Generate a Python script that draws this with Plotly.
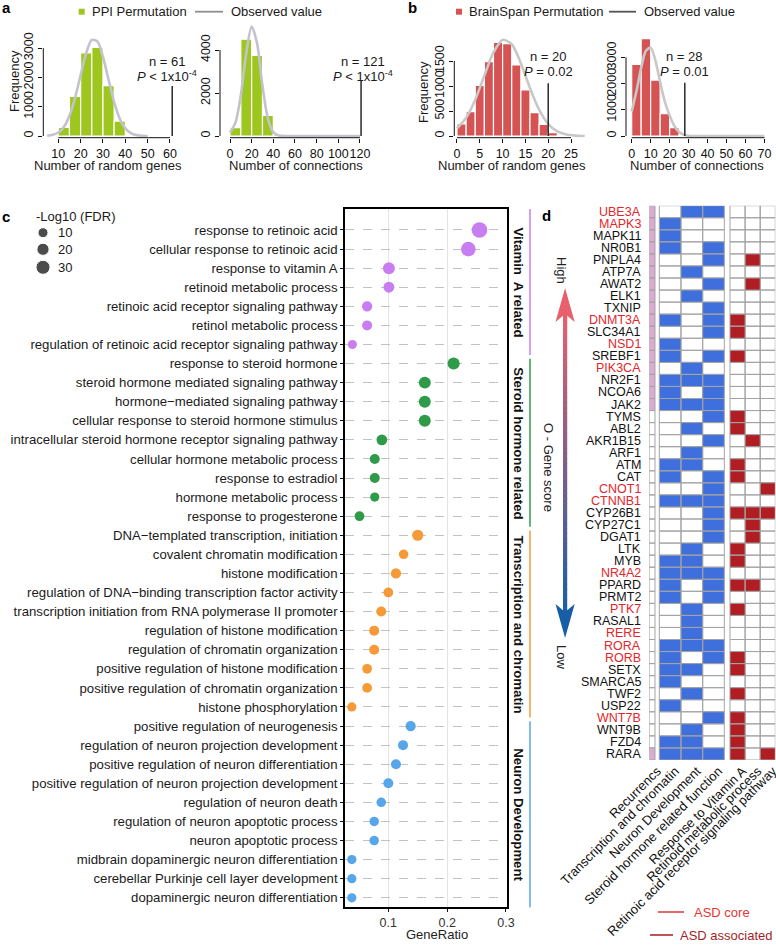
import plotly.graph_objects as go

W, H = 776, 947
FONT = "Liberation Sans, Arial, Helvetica, sans-serif"


def X(p):
    return p / W


def Y(p):
    return 1 - p / H


# ------------------------------------------------------------------ DATA
# Panel a (PPI permutation)
ppi_genes_bins = [12.5, 17.5, 22.5, 27.5, 32.5, 37.5]
ppi_genes_counts = [290, 1350, 2840, 3020, 1720, 510]
ppi_genes_curve_x = [5, 7.5, 10, 12.5, 15, 17.5, 20, 22.5, 25, 27.5, 30, 32.5, 35, 37.5, 40, 42.5, 45, 47.5, 50]
ppi_genes_curve_y = [10, 40, 120, 310, 690, 1300, 2080, 2830, 3280, 3230, 2700, 1920, 1160, 600, 260, 100, 30, 8, 0]
ppi_genes_observed = 61
ppi_genes_obs_height = 1706

ppi_conn_bins = [5, 15, 25, 35, 45, 55]
ppi_conn_counts = [390, 4500, 3750, 960, 80, 10]
ppi_conn_curve_x = [0, 5, 10, 15, 20, 25, 30, 35, 40, 45, 50, 60, 80, 100, 120]
ppi_conn_curve_y = [150, 620, 1900, 3850, 5090, 4300, 2330, 810, 180, 26, 2, 0, 0, 0, 0]
ppi_conn_observed = 121
ppi_conn_obs_height = 2605

# Panel b (BrainSpan permutation)
bs_genes_bins = [1, 3, 5, 7, 9, 11, 13, 15, 17, 19, 21, 23]
bs_genes_counts = [240, 487, 1010, 1487, 1873, 1847, 1420, 920, 467, 233, 67, 10]
bs_genes_curve_x = [0, 2, 4, 6, 8, 10, 12, 14, 16, 18, 20, 22, 24, 26, 28]
bs_genes_curve_y = [153, 363, 727, 1210, 1672, 1922, 1835, 1456, 960, 526, 239, 91, 29, 8, 0]
bs_genes_observed = 20
bs_genes_obs_height = 1054

bs_conn_bins = [2.5, 7.5, 12.5, 17.5, 22.5, 27.5]
bs_conn_counts = [2730, 3720, 2135, 850, 320, 40]
bs_conn_curve_x = [0, 2.5, 5, 7.5, 10, 12.5, 15, 17.5, 20, 22.5, 25, 27.5, 30, 33, 40, 50, 60, 70]
bs_conn_curve_y = [930, 1710, 2600, 3250, 3370, 2880, 2050, 1300, 780, 380, 150, 50, 12, 0, 0, 0, 0, 0]
bs_conn_observed = 28
bs_conn_obs_height = 2034

# Panel c (GO enrichment)
go_terms = [
    "response to retinoic acid",
    "cellular response to retinoic acid",
    "response to vitamin A",
    "retinoid metabolic process",
    "retinoic acid receptor signaling pathway",
    "retinol metabolic process",
    "regulation of retinoic acid receptor signaling pathway",
    "response to steroid hormone",
    "steroid hormone mediated signaling pathway",
    "hormone\u2212mediated signaling pathway",
    "cellular response to steroid hormone stimulus",
    "intracellular steroid hormone receptor signaling pathway",
    "cellular hormone metabolic process",
    "response to estradiol",
    "hormone metabolic process",
    "response to progesterone",
    "DNA\u2212templated transcription, initiation",
    "covalent chromatin modification",
    "histone modification",
    "regulation of DNA\u2212binding transcription factor activity",
    "transcription initiation from RNA polymerase II promoter",
    "regulation of histone modification",
    "regulation of chromatin organization",
    "positive regulation of histone modification",
    "positive regulation of chromatin organization",
    "histone phosphorylation",
    "positive regulation of neurogenesis",
    "regulation of neuron projection development",
    "positive regulation of neuron differentiation",
    "positive regulation of neuron projection development",
    "regulation of neuron death",
    "regulation of neuron apoptotic process",
    "neuron apoptotic process",
    "midbrain dopaminergic neuron differentiation",
    "cerebellar Purkinje cell layer development",
    "dopaminergic neuron differentiation",
]
gene_ratio = [0.255, 0.236, 0.101, 0.101, 0.064, 0.064, 0.039,
              0.211, 0.162, 0.162, 0.162, 0.089, 0.077, 0.077, 0.077, 0.051,
              0.150, 0.126, 0.113, 0.100, 0.088, 0.076, 0.076, 0.064, 0.064, 0.038,
              0.138, 0.125, 0.113, 0.100, 0.088, 0.076, 0.076, 0.038, 0.038, 0.038]
neg_log10_fdr = [40, 34, 19, 14, 11, 10, 6,
                 20, 19, 19, 19, 13, 10, 10, 7, 9,
                 15, 8, 11, 9, 10, 10, 10, 9, 9, 7,
                 11, 10, 10, 10, 8, 8, 8, 7, 7, 7]
go_group_names = ["Vitamin  A related", "Steroid hormone related",
                  "Transcription and chromatin", "Neuron Development"]
go_group_sizes = [7, 9, 10, 10]
fdr_legend_values = [10, 20, 30]

# Panel d (gene x function matrix)
genes = ["UBE3A", "MAPK3", "MAPK11", "NR0B1", "PNPLA4", "ATP7A", "AWAT2", "ELK1", "TXNIP",
         "DNMT3A", "SLC34A1", "NSD1", "SREBF1", "PIK3CA", "NR2F1", "NCOA6", "JAK2", "TYMS",
         "ABL2", "AKR1B15", "ARF1", "ATM", "CAT", "CNOT1", "CTNNB1", "CYP26B1", "CYP27C1",
         "DGAT1", "LTK", "MYB", "NR4A2", "PPARD", "PRMT2", "PTK7", "RASAL1", "RERE", "RORA",
         "RORB", "SETX", "SMARCA5", "TWF2", "USP22", "WNT7B", "WNT9B", "FZD4", "RARA"]
asd_core_genes = ["UBE3A", "MAPK3", "DNMT3A", "NSD1", "PIK3CA", "CNOT1", "CTNNB1",
                  "NR4A2", "PTK7", "RERE", "RORA", "RORB", "WNT7B"]
recurrence = [1] * 17 + [0] * 28 + [1]
transcription_chromatin = [0,1,1,1,0,0,0,0,0,1,0,1,1,0,1,1,1,0,0,0,0,1,1,0,1,0,0,0,0,1,1,1,1,0,0,0,1,1,1,1,0,1,0,0,1,1]
neuron_development = [1,0,0,0,0,1,0,1,0,0,0,0,0,1,1,0,1,0,1,0,1,1,0,0,1,0,0,0,1,1,1,0,0,1,1,1,1,0,1,0,1,0,0,1,1,1]
steroid_hormone = [1,0,0,1,1,0,1,0,1,1,1,0,1,0,1,1,1,1,0,1,0,0,1,1,1,1,1,1,0,0,1,1,1,0,0,0,1,1,0,0,0,0,1,0,0,1]
response_vitamin_a = [0,0,0,0,0,0,0,0,0,1,1,0,1,0,0,0,0,1,1,0,0,1,1,0,0,1,0,0,1,1,0,1,0,1,0,0,0,1,1,0,1,0,1,1,1,1]
retinoid_metabolic = [0,0,0,0,1,0,1,0,0,0,0,0,0,0,0,0,0,0,0,1,0,0,0,0,0,1,1,1,0,0,0,1,0,0,0,0,0,0,0,0,0,0,0,0,0,0]
rar_signaling = [0,0,0,0,0,0,0,0,0,0,0,0,0,0,0,0,0,0,0,0,0,0,0,1,0,1,0,0,0,0,0,0,0,0,0,0,0,0,0,0,0,0,0,0,0,1]
heat_columns = ["Recurrencs", "Transcription and chromatin", "Neuron Development",
                "Steroid hormone related function", "Response to Vitamin A",
                "Retinoid metabolic process", "Retinoic acid receptor signaling pathway"]

# ------------------------------------------------------------------ STYLE
GREEN = "#9DC71F"
RED_BAR = "#D65353"
GROUP_COLORS = ["#C87EF0", "#2F9A48", "#F59A36", "#58A6EA"]
BLUE_CELL = "#3E6FDC"
RED_CELL = "#B01E24"
PINK_CELL = "#DCAAD2"

fig = go.Figure()
shapes = []
annotations = []


def ann(text, x, y, size=13, color="#1a1a1a", xanchor="center", yanchor="middle",
        angle=0, xref="paper", yref="paper", **kw):
    annotations.append(dict(text=text, x=x, y=y, xref=xref, yref=yref, showarrow=False,
                            xanchor=xanchor, yanchor=yanchor, textangle=angle, borderpad=0,
                            font=dict(size=size, color=color, family=FONT), **kw))


# ------------------------------------------------------------------ PANELS a, b
hist_panels = [
    dict(n="", bins=ppi_genes_bins, counts=ppi_genes_counts, bw=5, cx=ppi_genes_curve_x,
         cy=ppi_genes_curve_y, obs=ppi_genes_observed, obs_h=ppi_genes_obs_height, color=GREEN,
         xt=[10, 20, 30, 40, 50, 60], yt=[0, 1000, 2000, 3000], dx=(43.3, 176), dy=(30, 137.7),
         xr=(3.28, 62.7), yr=(-58, 3618), xlab="Number of random genes", xlab_x=108,
         ylab=(15, 81), ptxt="<i>P</i> < 1x10<sup>-4</sup>", ty=(61.7, 76), xshift=-5,
         curve="#C3C3CF"),
    dict(n="2", bins=ppi_conn_bins, counts=ppi_conn_counts, bw=10, cx=ppi_conn_curve_x,
         cy=ppi_conn_curve_y, obs=ppi_conn_observed, obs_h=ppi_conn_obs_height, color=GREEN,
         xt=[0, 20, 40, 60, 80, 100, 120], yt=[0, 2000, 4000], dx=(220, 372), dy=(24, 137.7),
         xr=(-9.23, 131.1), yr=(-79, 5209), xlab="Number of connections", xlab_x=296,
         ylab=None, ptxt="<i>P</i> < 1x10<sup>-4</sup>", ty=(61.7, 76), xshift=2,
         curve="#C3C3CF"),
    dict(n="3", bins=bs_genes_bins, counts=bs_genes_counts, bw=2, cx=bs_genes_curve_x,
         cy=bs_genes_curve_y, obs=bs_genes_observed, obs_h=bs_genes_obs_height, color=RED_BAR,
         xt=[0, 5, 10, 15, 20, 25], yt=[0, 500, 1000, 1500], dx=(454.3, 592), dy=(30, 137.7),
         xr=(-0.59, 29.6), yr=(-34, 2120), xlab="Number of random genes", xlab_x=512,
         ylab=(424, 92), ptxt="<i>P</i> = 0.02", ty=(56.7, 71.7), xshift=0,
         curve="#C8C8C8"),
    dict(n="4", bins=bs_conn_bins, counts=bs_conn_counts, bw=5, cx=bs_conn_curve_x,
         cy=bs_conn_curve_y, obs=bs_conn_observed, obs_h=bs_conn_obs_height, color=RED_BAR,
         xt=[0, 10, 20, 30, 40, 50, 60, 70], yt=[0, 1000, 2000, 3000], dx=(626, 770),
         dy=(30, 137.7), xr=(-3.0, 72.9), yr=(-65, 4046), xlab="Number of connections",
         xlab_x=697, ylab=None, ptxt="<i>P</i> = 0.01", ty=(56.7, 71.7), xshift=0,
         curve="#C8C8C8"),
]

layout_axes = {}
for p in hist_panels:
    xa, ya = "x" + p["n"], "y" + p["n"]
    fig.add_trace(go.Bar(x=p["bins"], y=p["counts"], width=p["bw"], xaxis=xa, yaxis=ya,
                         marker=dict(color=p["color"], line=dict(color="white", width=1.2)),
                         hoverinfo="skip"))
    fig.add_trace(go.Scatter(x=p["cx"], y=p["cy"], mode="lines", xaxis=xa, yaxis=ya,
                             line=dict(color=p["curve"], width=2.6, shape="spline", smoothing=0.8),
                             hoverinfo="skip"))
    fig.add_trace(go.Scatter(x=[p["obs"], p["obs"]], y=[0, p["obs_h"]], mode="lines",
                             xaxis=xa, yaxis=ya, line=dict(color="#1a1a1a", width=1.4),
                             hoverinfo="skip"))
    layout_axes["xaxis" + p["n"]] = dict(
        domain=[X(p["dx"][0]), X(p["dx"][1])], range=list(p["xr"]), anchor=ya,
        tickvals=p["xt"], ticktext=[str(v) for v in p["xt"]], ticks="outside", ticklen=4,
        tickangle=0, tickcolor="#111", showgrid=False, zeroline=False, showline=False,
        automargin=False, tickfont=dict(size=12.5, color="#111", family=FONT))
    layout_axes["yaxis" + p["n"]] = dict(
        domain=[Y(p["dy"][1]), Y(p["dy"][0])], range=list(p["yr"]), anchor=xa,
        tickvals=p["yt"], ticktext=[str(v) for v in p["yt"]], ticks="outside", ticklen=4,
        tickangle=-90, tickcolor="#111", showgrid=False, zeroline=False, showline=False,
        automargin=False, tickfont=dict(size=12.5, color="#111", family=FONT))
    # base-R style axis lines spanning first to last tick
    shapes.append(dict(type="line", xref=xa, yref=ya + " domain", x0=p["xt"][0], x1=p["xt"][-1],
                       y0=0, y1=0, line=dict(color="#111", width=1)))
    shapes.append(dict(type="line", xref=xa + " domain", yref=ya, x0=0, x1=0,
                       y0=p["yt"][0], y1=p["yt"][-1], line=dict(color="#111", width=1)))
    ann(p["xlab"], X(p["xlab_x"]), Y(165), size=13)
    if p["ylab"]:
        ann("Frequency", X(p["ylab"][0]), Y(p["ylab"][1]), size=13, angle=-90)
    ann("n = %d" % p["obs"], p["obs"], Y(p["ty"][0]), size=13, xref=xa, xshift=p["xshift"])
    ann(p["ptxt"], p["obs"], Y(p["ty"][1]), size=13, xref=xa, xshift=p["xshift"])

# legends for a and b
for sq_x, color, txt, lx0, lx1, ltxt_x, lcol in [
        (81.7, GREEN, "PPI Permutation", 195, 223, 230, "#8E8E8E"),
        (459, RED_BAR, "BrainSpan Permutation", 609, 636, 643, "#555555")]:
    shapes.append(dict(type="rect", xref="paper", yref="paper", x0=X(sq_x - 3), x1=X(sq_x + 3),
                       y0=Y(14.7), y1=Y(8.7), fillcolor=color, line=dict(width=0)))
    ann(txt, X(sq_x + 9), Y(11.7), size=13, xanchor="left")
    shapes.append(dict(type="line", xref="paper", yref="paper", x0=X(lx0), x1=X(lx1),
                       y0=Y(11.7), y1=Y(11.7), line=dict(color=lcol, width=1.8)))
    ann("Observed value", X(ltxt_x), Y(11.7), size=13, xanchor="left")

# ------------------------------------------------------------------ PANEL c
def dot_size(v):
    return (52 + 4.8 * v) ** 0.5


rows = list(range(len(go_terms)))
start = 0
group_ranges = []
for gi, gsize in enumerate(go_group_sizes):
    idx = rows[start:start + gsize]
    fig.add_trace(go.Scatter(
        x=[gene_ratio[i] for i in idx], y=idx, mode="markers", xaxis="x5", yaxis="y5",
        marker=dict(color=GROUP_COLORS[gi], size=[dot_size(neg_log10_fdr[i]) for i in idx],
                    line=dict(width=0), opacity=1),
        hoverinfo="skip"))
    group_ranges.append((idx[0], idx[-1]))
    start += gsize

Y_TOP, Y_BOT = -1.1, 35.5
layout_axes["xaxis5"] = dict(
    domain=[X(345), X(506.7)], range=[0.0264, 0.3012], anchor="y5",
    tickvals=[0.1, 0.2, 0.3], ticktext=["0.1", "0.2", "0.3"], ticks="outside", ticklen=3,
    tickangle=0, tickcolor="#111", showgrid=True, gridcolor="#E4E4E4", gridwidth=1,
    zeroline=False, showline=True, mirror=True, linecolor="#000", linewidth=1.6,
    automargin=False, tickfont=dict(size=12.5, color="#333", family=FONT))
layout_axes["yaxis5"] = dict(
    domain=[Y(907.3), Y(209)], range=[Y_BOT, Y_TOP], anchor="x5",
    tickvals=rows, ticktext=go_terms, ticks="outside", ticklen=3, tickcolor="#111",
    showgrid=True, gridcolor="#C2C2C2", gridwidth=1, griddash="dash", zeroline=False,
    showline=True, mirror=True, linecolor="#000", linewidth=1.6, automargin=False,
    tickfont=dict(size=13.2, color="#1a1a1a", family=FONT))
ann("GeneRatio", X(437), Y(934), size=13, color="#222")

for gi, (g0, g1) in enumerate(group_ranges):
    y0 = Y_TOP if gi == 0 else g0 - 0.25
    y1 = g1 + 0.55
    shapes.append(dict(type="line", xref="paper", yref="y5", x0=X(530), x1=X(530), y0=y0, y1=y1,
                       line=dict(color=GROUP_COLORS[gi], width=1.5)))
    ann("<b>%s</b>" % go_group_names[gi], X(518.5), (y0 + y1) / 2, size=13.2, color="#111",
        angle=90, yref="y5")

# size legend (overlay axis in pixel space)
fig.add_trace(go.Scatter(x=[43, 43, 43], y=[232.7, 249.3, 267.3], mode="markers",
                         xaxis="x7", yaxis="y7",
                         marker=dict(color="black", size=[dot_size(v) for v in fdr_legend_values]),
                         hoverinfo="skip"))
ann("-Log10 (FDR)", X(35), Y(216.5), size=13, xanchor="left")
for v, yy in zip(fdr_legend_values, [232.7, 249.3, 267.3]):
    ann(str(v), X(57), Y(yy), size=13, xanchor="left")
layout_axes["xaxis7"] = dict(domain=[0, 1], range=[0, W], anchor="y7", visible=False)
layout_axes["yaxis7"] = dict(domain=[0, 1], range=[H, 0], anchor="x7", visible=False)

# ------------------------------------------------------------------ PANEL d
# column geometry (in axis units = px)
col_x0 = [0, 10, 31.7, 53.4, 80.7, 95.8, 110.9]
col_w = [5.7, 21.7, 21.7, 21.6, 15.1, 15.1, 15.1]
col_values = [recurrence, transcription_chromatin, neuron_development, steroid_hormone,
              response_vitamin_a, retinoid_metabolic, rar_signaling]
col_colors = [PINK_CELL, BLUE_CELL, BLUE_CELL, BLUE_CELL, RED_CELL, RED_CELL, RED_CELL]

cells_by_color = {"white": [], PINK_CELL: [], BLUE_CELL: [], RED_CELL: []}
for ci, vals in enumerate(col_values):
    for ri, v in enumerate(vals):
        key = col_colors[ci] if v else "white"
        cells_by_color[key].append((col_x0[ci], col_x0[ci] + col_w[ci], ri))

for color, cells in cells_by_color.items():
    xs, ys = [], []
    for x0, x1, r in cells:
        xs += [x0, x1, x1, x0, x0, None]
        ys += [r, r, r + 1, r + 1, r, None]
    fig.add_trace(go.Scatter(x=xs, y=ys, mode="lines", fill="toself", fillcolor=color,
                             xaxis="x6", yaxis="y6", line=dict(color="#A3A3A3", width=1),
                             hoverinfo="skip"))

layout_axes["xaxis6"] = dict(
    domain=[X(649.3), X(775.3)], range=[0, 126], anchor="y6", showgrid=False, zeroline=False,
    showline=False, tickvals=[col_x0[i] + col_w[i] / 2 for i in range(len(col_x0))],
    ticktext=heat_columns, tickangle=-45, ticks="", automargin=False, ticklabelshift=5,
    ticklabeloverflow="allow", tickfont=dict(size=13, color="#111", family=FONT))
layout_axes["yaxis6"] = dict(domain=[Y(760), Y(205.7)], range=[len(genes), 0], anchor="x6",
                             visible=False)

for ri, g in enumerate(genes):
    ann(g, X(642), ri + 0.5, size=12.5, color="#E3262B" if g in asd_core_genes else "#111",
        xanchor="right", yref="y6")

# gene-score gradient arrow
top_rgb, bot_rgb = (232, 96, 108), (24, 94, 166)
n_seg = 60
sy0, sy1 = 312, 614
for k in range(n_seg):
    t = (k + 0.5) / n_seg
    c = tuple(round(top_rgb[j] + (bot_rgb[j] - top_rgb[j]) * t) for j in range(3))
    ya0 = sy0 + (sy1 - sy0) * k / n_seg
    ya1 = sy0 + (sy1 - sy0) * (k + 1) / n_seg + 0.6
    shapes.append(dict(type="rect", xref="paper", yref="paper", x0=X(563), x1=X(567.2),
                       y0=Y(ya1), y1=Y(ya0), fillcolor="rgb(%d,%d,%d)" % c, line=dict(width=0)))


def tri(pts):
    return "M " + " L ".join("%f,%f" % (X(a), Y(b)) for a, b in pts) + " Z"


shapes.append(dict(type="path", xref="paper", yref="paper",
                   path=tri([(565.1, 288), (555.5, 322), (565.1, 314), (574.7, 322)]),
                   fillcolor="rgb(%d,%d,%d)" % top_rgb, line=dict(width=0)))
shapes.append(dict(type="path", xref="paper", yref="paper",
                   path=tri([(565.1, 638), (555.5, 604), (565.1, 612), (574.7, 604)]),
                   fillcolor="rgb(%d,%d,%d)" % bot_rgb, line=dict(width=0)))
ann("High", X(562), Y(270), size=13, angle=90, color="#222")
ann("O - Gene score", X(548), Y(467), size=13, angle=90, color="#222")
ann("Low", X(562), Y(657), size=13, angle=90, color="#222")

# ASD legend
shapes.append(dict(type="line", xref="paper", yref="paper", x0=X(658), x1=X(684), y0=Y(912),
                   y1=Y(912), line=dict(color="#E53535", width=1.5)))
ann("ASD core", X(693), Y(912), size=13, color="#E53535", xanchor="left")
shapes.append(dict(type="line", xref="paper", yref="paper", x0=X(650), x1=X(673), y0=Y(935),
                   y1=Y(935), line=dict(color="#A31F1F", width=1.5)))
ann("ASD associated", X(679), Y(935), size=13, color="#A31F1F", xanchor="left")

# panel letters
for letter, lx, ly in [("a", 1, 7), ("b", 407, 7), ("c", 1, 217), ("d", 541, 215)]:
    ann("<b>%s</b>" % letter, X(lx), Y(ly), size=15, color="#000", xanchor="left")

fig.update_layout(
    width=W, height=H, margin=dict(l=0, r=0, t=0, b=0), paper_bgcolor="white",
    plot_bgcolor="rgba(0,0,0,0)", showlegend=False,
    font=dict(family=FONT, size=12, color="#111"),
    shapes=shapes, annotations=annotations, **layout_axes)

fig.write_html("out.html", config={"displayModeBar": False},
               post_script="document.body.style.margin='0px';")
